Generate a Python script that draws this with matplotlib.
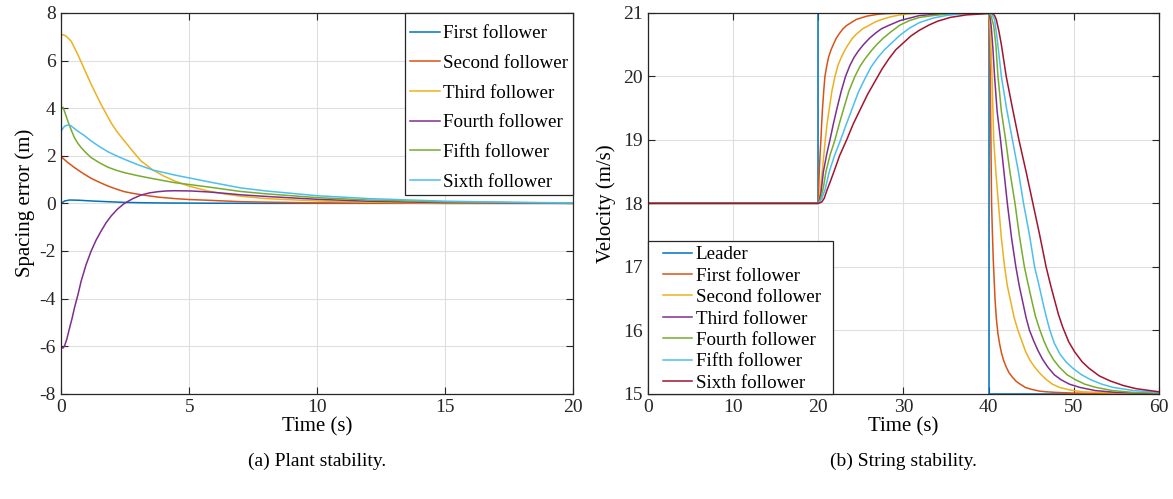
import matplotlib.pyplot as plt
from matplotlib.patches import Rectangle

plt.rcParams['font.family'] = ['Liberation Serif', 'DejaVu Serif']
plt.rcParams['axes.unicode_minus'] = False

COLORS = ['#0072BD', '#D95319', '#EDB120', '#7E2F8E', '#77AC30', '#4DBEEE', '#A2142F']
AXCOL = '#262626'

# ---- (a) plant stability: spacing error of each follower ----
err_names = ['First follower', 'Second follower', 'Third follower',
             'Fourth follower', 'Fifth follower', 'Sixth follower']

t_first = [0, 0.13, 0.33, 0.7, 1.17, 1.8, 2.47, 3.2, 4.0, 5.0, 6.0, 8.0, 20]
e_first = [0, 0.10, 0.14, 0.13, 0.10, 0.07, 0.04, 0.025, 0.015, 0.01, 0.005, 0, 0]

t_second = [0, 0.25, 0.52, 0.85, 1.17, 1.5, 1.82, 2.15, 2.47, 2.85, 3.26, 3.8, 4.43, 5.0, 5.73, 7, 8, 10, 15, 20]
e_second = [1.96, 1.72, 1.50, 1.26, 1.05, 0.88, 0.73, 0.60, 0.49, 0.41, 0.34, 0.26, 0.20, 0.16, 0.13, 0.07, 0.05, 0.02, 0, 0]

t_third = [0, 0.07, 0.2, 0.39, 0.65, 0.91, 1.17, 1.56, 1.95, 2.2, 2.47, 2.8, 3.12, 3.58, 4.0, 4.43, 5.0, 5.73,
           6.4, 7, 8, 10, 12, 15, 20]
e_third = [7.05, 7.09, 7.02, 6.81, 6.25, 5.62, 5.0, 4.15, 3.38, 2.98, 2.62, 2.18, 1.78, 1.40, 1.15, 0.94, 0.72, 0.52,
           0.39, 0.30, 0.20, 0.10, 0.05, 0.01, 0]

t_fourth = [0, 0.07, 0.13, 0.22, 0.33, 0.42, 0.52, 0.65, 0.78, 0.97, 1.17, 1.36, 1.56, 1.75, 1.95, 2.2, 2.47, 2.8,
            3.12, 3.45, 3.78, 4.1, 4.43, 5.08, 5.73, 6.4, 7, 8, 10, 12, 15, 20]
e_fourth = [-6.06, -6.08, -5.99, -5.7, -5.22, -4.85, -4.38, -3.85, -3.26, -2.58, -2.0, -1.55, -1.16, -0.82, -0.53,
            -0.24, 0, 0.2, 0.35, 0.44, 0.49, 0.52, 0.53, 0.52, 0.48, 0.42, 0.36, 0.29, 0.17, 0.09, 0.03, 0]

t_fifth = [0, 0.07, 0.15, 0.26, 0.39, 0.52, 0.65, 0.78, 0.97, 1.17, 1.5, 1.82, 2.15, 2.47, 3.0, 3.52, 4.43, 5.73,
           7, 8, 10, 12, 15, 20]
e_fifth = [4.0, 4.04, 3.8, 3.45, 3.08, 2.75, 2.52, 2.34, 2.12, 1.92, 1.7, 1.52, 1.39, 1.29, 1.16, 1.05, 0.87, 0.69,
           0.5, 0.4, 0.24, 0.14, 0.06, 0.01]

t_sixth = [0, 0.05, 0.13, 0.22, 0.33, 0.45, 0.65, 0.9, 1.17, 1.5, 1.82, 2.15, 2.47, 3.0, 3.58, 4.43, 5.73, 7, 8,
           10, 12, 15, 18, 20]
e_sixth = [3.03, 3.13, 3.24, 3.28, 3.29, 3.2, 3.03, 2.85, 2.62, 2.38, 2.17, 2.0, 1.85, 1.62, 1.40, 1.19, 0.91,
           0.65, 0.52, 0.32, 0.2, 0.09, 0.04, 0.02]

err_t = [t_first, t_second, t_third, t_fourth, t_fifth, t_sixth]
err_v = [e_first, e_second, e_third, e_fourth, e_fifth, e_sixth]

# ---- (b) string stability: velocities ----
vel_names = ['Leader', 'First follower', 'Second follower', 'Third follower',
             'Fourth follower', 'Fifth follower', 'Sixth follower']
v_low, v_mid, v_high = 15, 18, 21
t_up, t_down, t_end = 20, 40, 60

leader_t = [0, 20, 20, 40, 40, 60]
leader_v = [18, 18, 21, 21, 15, 15]

# response after the leader speeds up (time since t=20)
rise_tau = [
    [0, 0.05, 0.1, 0.2, 0.31, 0.4, 0.5, 0.64, 0.78, 1.0, 1.2, 1.5, 1.76, 2.1, 2.5, 2.9, 3.3, 4.0, 4.5, 5.7, 7, 8, 10, 12, 20],
    [0, 0.2, 0.5, 0.82, 1.05, 1.3, 1.6, 1.96, 2.3, 2.7, 3.1, 3.5, 4.0, 4.5, 5.2, 5.9, 6.7, 7.5, 8.5, 9.6, 11, 13, 20],
    [0, 0.3, 0.6, 1.0, 1.37, 1.8, 2.2, 2.7, 3.2, 3.7, 4.2, 4.7, 5.3, 6.0, 6.7, 7.4, 8.2, 9.6, 11.9, 15, 20],
    [0, 0.3, 0.6, 0.9, 1.4, 1.96, 2.5, 3.0, 3.6, 4.3, 4.9, 5.5, 6.2, 6.85, 7.6, 8.5, 9.6, 10.7, 11.9, 13.5, 15, 20],
    [0, 0.4, 0.8, 1.29, 1.9, 2.62, 3.3, 4.0, 4.7, 5.5, 6.2, 7.0, 7.7, 8.4, 9.6, 10.7, 11.9, 13.5, 15, 17, 20],
    [0, 0.4, 0.7, 1.0, 1.4, 1.84, 2.5, 3.33, 4.1, 5.0, 5.8, 6.65, 7.5, 8.3, 9.1, 10.0, 10.9, 11.9, 13, 14, 15.5, 17.4, 20],
]
rise_v = [
    [18, 18.25, 18.45, 18.75, 19, 19.27, 19.5, 19.77, 20, 20.17, 20.3, 20.42, 20.5, 20.6, 20.68, 20.75, 20.8, 20.86,
     20.9, 20.95, 20.98, 20.99, 21, 21, 21],
    [18, 18.15, 18.55, 19, 19.27, 19.5, 19.77, 20, 20.17, 20.3, 20.41, 20.5, 20.6, 20.67, 20.75, 20.8, 20.86, 20.9,
     20.94, 20.97, 20.99, 21, 21],
    [18, 18.15, 18.5, 18.78, 19, 19.27, 19.5, 19.77, 20, 20.17, 20.3, 20.4, 20.5, 20.6, 20.68, 20.75, 20.8, 20.88,
     20.96, 20.99, 21],
    [18, 18.08, 18.25, 18.5, 18.77, 19, 19.27, 19.5, 19.77, 20, 20.16, 20.28, 20.4, 20.5, 20.6, 20.7, 20.81, 20.88,
     20.93, 20.96, 20.98, 21],
    [18, 18.07, 18.22, 18.5, 18.75, 19, 19.25, 19.5, 19.75, 19.97, 20.15, 20.3, 20.41, 20.5, 20.65, 20.76, 20.85,
     20.92, 20.96, 20.99, 21],
    [18, 18.02, 18.08, 18.2, 18.34, 18.5, 18.75, 19, 19.25, 19.5, 19.72, 19.92, 20.12, 20.28, 20.42, 20.53, 20.64,
     20.73, 20.81, 20.87, 20.93, 20.97, 20.99],
]

# response after the leader slows down (time since t=40)
fall_tau = [
    [0, 0.05, 0.1, 0.15, 0.2, 0.27, 0.35, 0.43, 0.55, 0.75, 0.9, 1.09, 1.3, 1.5, 1.75, 2.07, 2.4, 2.8, 3.2, 3.6,
     4.3, 5, 6, 6.8, 8, 10, 20],
    [0, 0.15, 0.3, 0.4, 0.6, 0.85, 1.15, 1.5, 1.88, 2.2, 2.6, 3.0, 3.44, 3.9, 4.3, 4.8, 5.4, 6.1, 6.8, 7.5, 8.3,
     9.5, 11, 13, 15, 20],
    [0, 0.15, 0.3, 0.5, 0.7, 1.0, 1.4, 1.8, 2.2, 2.7, 3.2, 3.6, 4.0, 4.4, 4.8, 5.3, 5.8, 6.35, 6.95, 7.7, 8.5,
     9.5, 10.7, 12.5, 15, 20],
    [0, 0.3, 0.6, 0.85, 1.1, 1.5, 2.0, 2.5, 3.1, 3.6, 4.2, 4.6, 5.1, 5.5, 5.98, 6.5, 7.0, 7.6, 8.3, 9.2, 10.2,
     11.3, 12.6, 14.5, 17, 20],
    [0, 0.4, 0.7, 1.0, 1.5, 2.1, 2.8, 3.5, 4.1, 4.8, 5.4, 5.9, 6.3, 6.7, 7.15, 7.7, 8.4, 9.1, 9.9, 10.9, 12,
     13.3, 14.6, 17, 20],
    [0, 0.4, 0.7, 0.9, 1.2, 1.5, 2.07, 2.8, 3.56, 4.4, 5.2, 6.0, 6.75, 7.3, 7.7, 8.2, 8.7, 9.4, 10.1, 11.0,
     11.8, 13, 14.3, 15.8, 17.3, 20],
]
fall_v = [
    [21, 20.95, 20.75, 20.45, 20, 19, 18, 17.6, 17.1, 16.5, 16.2, 15.95, 15.78, 15.65, 15.53, 15.42, 15.33, 15.26,
     15.2, 15.16, 15.1, 15.07, 15.04, 15.03, 15.02, 15.01, 15],
    [21, 20.85, 20.4, 20, 19, 18.5, 18, 17.45, 17, 16.7, 16.45, 16.2, 16, 15.83, 15.68, 15.54, 15.42, 15.31, 15.22,
     15.15, 15.1, 15.06, 15.03, 15.02, 15.01, 15],
    [21, 20.95, 20.8, 20.45, 20, 19.45, 19, 18.5, 18, 17.45, 17, 16.7, 16.45, 16.2, 16, 15.83, 15.68, 15.54, 15.42,
     15.3, 15.22, 15.15, 15.1, 15.05, 15.02, 15],
    [21, 20.95, 20.8, 20.5, 20, 19.45, 19, 18.5, 18, 17.5, 17, 16.75, 16.45, 16.22, 16.02, 15.83, 15.68, 15.54,
     15.42, 15.3, 15.22, 15.15, 15.1, 15.05, 15.02, 15.01],
    [21, 20.97, 20.9, 20.6, 20, 19.5, 19, 18.5, 18, 17.5, 17, 16.72, 16.48, 16.25, 16.02, 15.8, 15.62, 15.5, 15.4,
     15.3, 15.22, 15.15, 15.1, 15.05, 15.02],
    [21, 21, 20.96, 20.9, 20.72, 20.5, 20, 19.5, 19, 18.5, 18, 17.5, 17, 16.7, 16.5, 16.25, 16.05, 15.82, 15.66,
     15.5, 15.4, 15.28, 15.2, 15.13, 15.08, 15.03],
]

fig = plt.figure(figsize=(11.73, 4.99), dpi=100)
ax1 = fig.add_axes([0.0522, 0.211, 0.4365, 0.763])
ax2 = fig.add_axes([0.5524, 0.211, 0.4356, 0.763])


def style_axes(ax):
    ax.grid(True, color='#dfdfdf', linewidth=0.8)
    ax.set_axisbelow(True)
    for sp in ax.spines.values():
        sp.set_color(AXCOL)
        sp.set_linewidth(0.9)
    ax.tick_params(direction='in', length=5, width=0.8, colors=AXCOL,
                   labelsize=14, top=True, right=True, pad=4)


def boxed_legend(ax, frame, anchor, spacing):
    # MATLAB-like legend: plain box drawn separately, entries placed inside it
    ax.add_patch(Rectangle(frame[:2], frame[2], frame[3], transform=ax.transAxes,
                           facecolor='white', edgecolor=AXCOL, linewidth=0.9,
                           zorder=4, clip_on=False))
    leg = ax.legend(loc='upper left', bbox_to_anchor=anchor, borderaxespad=0, borderpad=0,
                    frameon=False, fontsize=13.7, handlelength=1.55, handletextpad=0.18,
                    labelspacing=spacing)
    leg.set_zorder(5)
    return leg


for i in range(6):
    ax1.plot(err_t[i], err_v[i], color=COLORS[i], linewidth=1.1, label=err_names[i])
ax1.set_xlim(0, 20)
ax1.set_ylim(-8, 8)
ax1.set_xticks([0, 5, 10, 15, 20])
ax1.set_yticks(range(-8, 9, 2))
style_axes(ax1)
ax1.set_xlabel('Time (s)', fontsize=15, labelpad=1)
ax1.set_ylabel('Spacing error (m)', fontsize=15, labelpad=3)
boxed_legend(ax1, (0.672, 0.522, 0.328, 0.478), (0.682, 0.968), 0.647)

ax2.plot(leader_t, leader_v, color=COLORS[0], linewidth=1.1, label=vel_names[0])
for i in range(6):
    tt = [0, t_up] + [t_up + x for x in rise_tau[i]] + [t_down + x for x in fall_tau[i]]
    vv = [v_mid, v_mid] + rise_v[i] + fall_v[i]
    ax2.plot(tt, vv, color=COLORS[i + 1], linewidth=1.1, label=vel_names[i + 1])
ax2.set_xlim(0, t_end)
ax2.set_ylim(v_low, v_high)
ax2.set_xticks(range(0, 61, 10))
ax2.set_yticks(range(15, 22))
style_axes(ax2)
ax2.set_xlabel('Time (s)', fontsize=15, labelpad=1)
ax2.set_ylabel('Velocity (m/s)', fontsize=15, labelpad=5)
boxed_legend(ax2, (0, 0, 0.362, 0.4), (0.0294, 0.388), 0.215)

fig.text(0.270, 0.076, '(a) Plant stability.', ha='center', va='center', fontsize=14)
fig.text(0.770, 0.076, '(b) String stability.', ha='center', va='center', fontsize=14)

fig.savefig('out.png', dpi=100)
